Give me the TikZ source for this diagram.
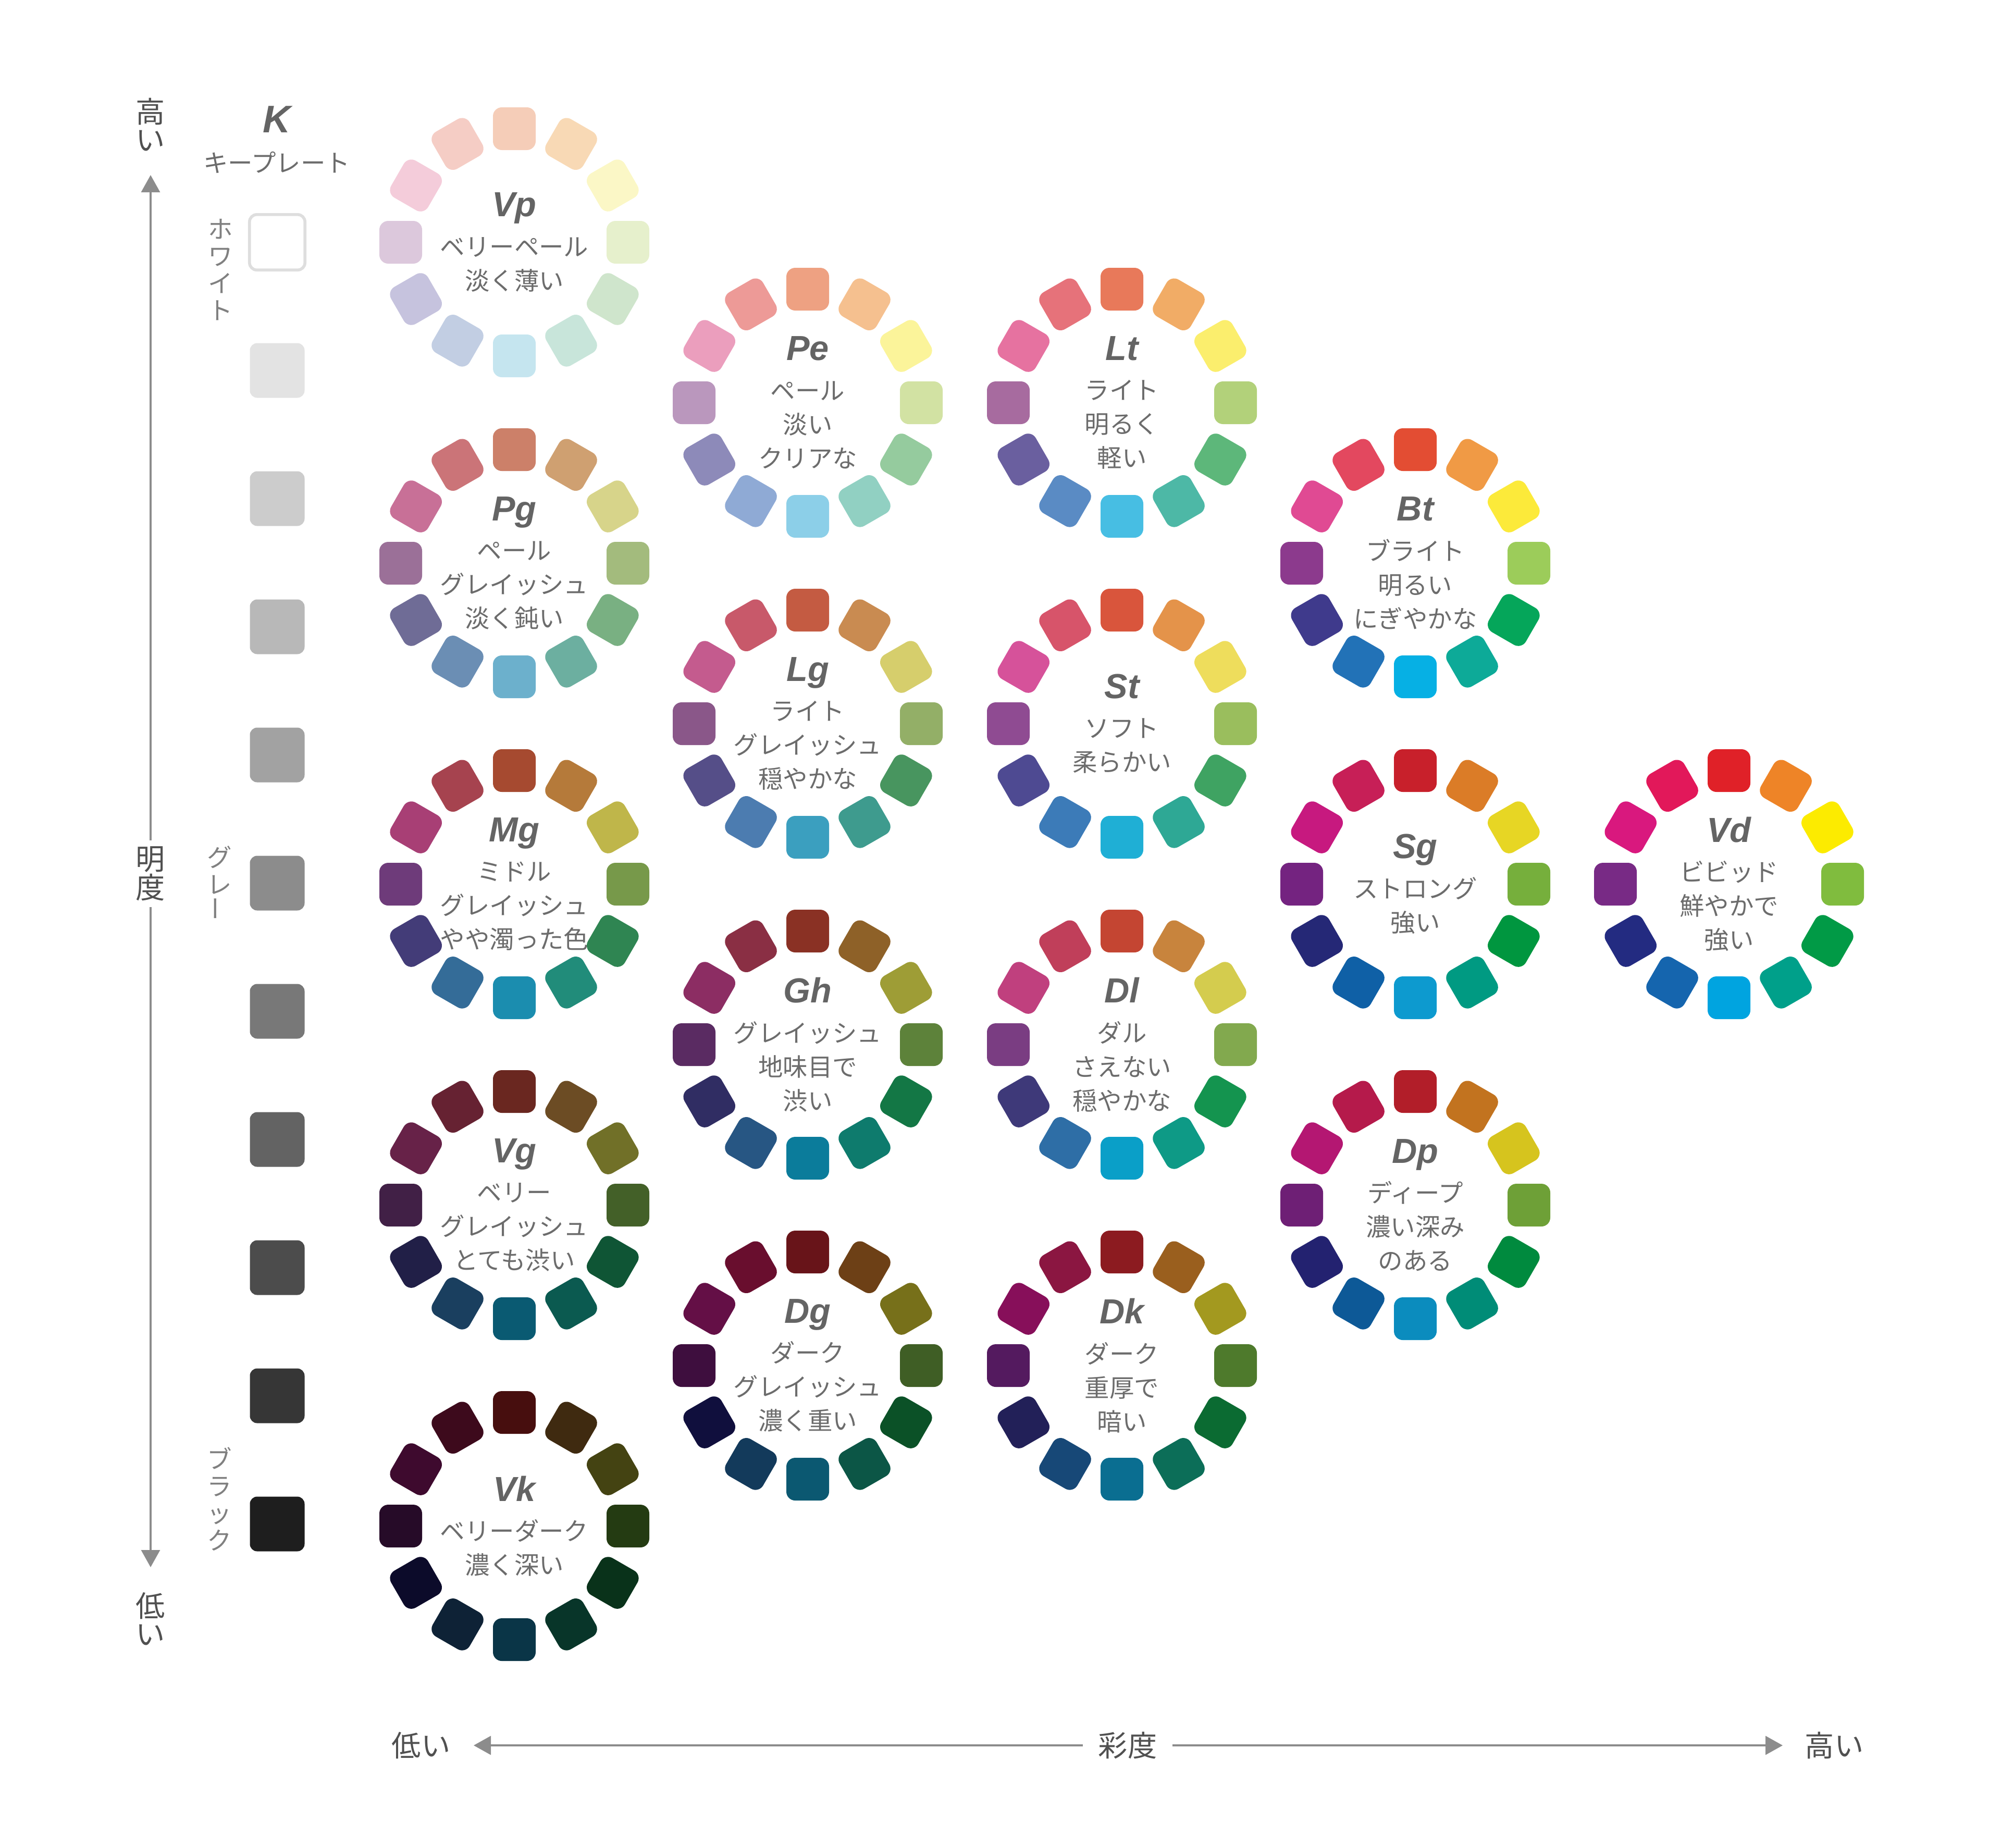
\documentclass[tikz,border=0pt]{standalone}
\usepackage{fontspec}
\setmainfont{Noto Sans CJK JP}
\newfontfamily\titlefont{Liberation Sans}
\usetikzlibrary{arrows.meta}

\definecolor{labelgray}{HTML}{6C6C6C}
\definecolor{titlegray}{HTML}{646464}
\definecolor{axisgray}{HTML}{8C8C8C}
\definecolor{axistext}{HTML}{505050}
\definecolor{sidegray}{HTML}{808080}

\tikzset{
  tile/.style={rectangle, minimum size=0.82cm, inner sep=0pt, rounded corners=0.17cm},
  ringtext/.style={align=center, text=labelgray, font=\fontsize{13.5}{18.5}\selectfont, inner sep=0pt},
  keytile/.style={rectangle, minimum size=1.05cm, inner sep=0pt, rounded corners=0.14cm},
  axislabel/.style={text=axistext, font=\fontsize{16}{15.5}\selectfont, align=center, inner sep=0.12cm},
  sidelabel/.style={text=sidegray, font=\fontsize{13.5}{14.8}\selectfont, align=center, inner sep=0pt},
  axisline/.style={draw=axisgray, line width=0.9pt,
    {Triangle[width=0.36cm,length=0.33cm]}-{Triangle[width=0.36cm,length=0.33cm]}},
}

\newcommand\tonetitle[1]{{\titlefont\bfseries\itshape\fontsize{19}{19}\selectfont\color{titlegray}#1}\\[3pt]}

\newcommand\tonering[4]{%
  \begin{scope}[shift={(#2)}]
    \foreach \hex [count=\i from 0] in {#3} {
      \definecolor{tilecol}{HTML}{\hex}
      \node[tile, fill=tilecol, rotate=90-30*\i] (#1-\i) at (90-30*\i:2.18) {};
    }
    \node[ringtext] (#1) at (0,0) {#4};
  \end{scope}%
}

\begin{document}
\begin{tikzpicture}
  \useasboundingbox (0,0) rectangle (38.40,-35.46);

  \coordinate (lightTop) at (2.89,-3.36);
  \coordinate (lightBot) at (2.89,-30.08);
  \draw[axisline] (lightTop) -- (lightBot);
  \node[axislabel] (lightHi) at (2.89,-2.39) {高\\い};
  \node[axislabel] (lightLo) at (2.89,-31.07) {低\\い};
  \node[axislabel, fill=white] (lightness) at (2.89,-16.77) {明\\度};

  \coordinate (chromaL) at (9.09,-33.50);
  \coordinate (chromaR) at (34.21,-33.50);
  \draw[axisline] (chromaL) -- (chromaR);
  \node[axislabel] (chromaLo) at (8.08,-33.50) {低い};
  \node[axislabel] (chromaHi) at (35.20,-33.50) {高い};
  \node[axislabel, fill=white, inner xsep=0.3cm] (chroma) at (21.64,-33.50) {彩度};

  \node[ringtext] (key) at (5.31,-2.68) {{\titlefont\bfseries\itshape\fontsize{21}{21}\selectfont\color{titlegray}K}\\[3pt]キープレート};
  \foreach \hex [count=\k from 0] in {FFFFFF,E3E3E3,CCCCCC,B8B8B8,A2A2A2,8C8C8C,787878,636363,4C4C4C,363636,1E1E1E} {
    \definecolor{tilecol}{HTML}{\hex}
    \node[keytile, fill=tilecol] (key-\k) at (5.32,-4.65-2.46*\k) {};
  }
  \draw[draw=black!13, line width=1.6pt, rounded corners=0.14cm]
    (key-0.south west) rectangle (key-0.north east);
  \node[sidelabel] (white) at (4.23,-5.18) {ホ\\ワ\\イ\\ト};
  \node[sidelabel] (grey) at (4.21,-16.96) {グ\\レ\\\rotatebox{90}{ー}};
  \node[sidelabel] (black) at (4.21,-28.77) {ブ\\ラ\\ッ\\ク};

  \tonering{Vp}{9.87,-4.65}{F5CDB8,F8D9B5,FBF7C6,E6F0CC,CFE5CC,C8E5DA,C5E5EF,C2CEE3,C6C3DE,DCC8DC,F4CCDA,F5CDC5}{\tonetitle{Vp}ベリーペール\\淡く薄い}
  \tonering{Pg}{9.87,-10.81}{CC8069,CFA071,D7D48A,A3BB7D,79B082,6CAFA0,6CB0CC,6B8EB4,6F6C96,9B7098,C87097,CB7478}{\tonetitle{Pg}ペール\\グレイッシュ\\淡く鈍い}
  \tonering{Mg}{9.87,-16.97}{A64A30,B57A3A,BFB64A,77994A,2F8552,218C7A,1B8DAF,346C98,433C78,6E3B7A,A83F75,A6434F}{\tonetitle{Mg}ミドル\\グレイッシュ\\やや濁った色}
  \tonering{Vg}{9.87,-23.13}{6A2720,6C4C24,717028,436028,0F5535,0B5A50,0A5A72,1A3F5F,211F47,412046,672248,662232}{\tonetitle{Vg}ベリー\\グレイッシュ\\とても渋い}
  \tonering{Vk}{9.87,-29.29}{470E0E,3F2A10,444312,243B12,09321A,083529,0A3547,0E2236,0C0B2A,260B28,3E0A2E,3D0A1C}{\tonetitle{Vk}ベリーダーク\\濃く深い}

  \tonering{Pe}{15.50,-7.73}{EEA182,F5C08F,FBF49A,D2E2A3,95CB9E,91D0C2,8CCFE8,8FAAD5,8D8AB9,BA97BD,EB9EBD,ED9A97}{\tonetitle{Pe}ペール\\淡い\\クリアな}
  \tonering{Lg}{15.50,-13.89}{C45B42,C98B51,D6CE6C,93AF67,48955F,3E9B8E,3B9FBF,4C7CB0,554E88,8A5789,C45B8E,C8596A}{\tonetitle{Lg}ライト\\グレイッシュ\\穏やかな}
  \tonering{Gh}{15.50,-20.05}{8A3124,8E6128,9E9D36,5D823A,137745,0E7B6D,0B7C9B,275683,302D63,5A2B62,8C2D63,8A2F44}{\tonetitle{Gh}グレイッシュ\\地味目で\\渋い}
  \tonering{Dg}{15.50,-26.21}{681419,6D4016,77701A,3F5E25,0B5127,0C5646,0B5871,133A5B,100F3D,3E0E3E,640F46,690E2E}{\tonetitle{Dg}ダーク\\グレイッシュ\\濃く重い}

  \tonering{Lt}{21.53,-7.73}{E8795A,F1AC66,FBEE6D,B2D17A,5DB77A,4DB8A6,47BEE3,5A8BC4,6A5F9F,A76B9F,E672A0,E6727A}{\tonetitle{Lt}ライト\\明るく\\軽い}
  \tonering{St}{21.53,-13.89}{D9553C,E4934A,EEDD5C,9ABE5D,3FA362,2EA895,1FAFD5,3C7BB8,4E4A92,8F4B92,D6529A,D7546A}{\tonetitle{St}ソフト\\柔らかい}
  \tonering{Dl}{21.53,-20.05}{C44532,C8843D,D4CC4E,82A94E,14944F,0E9A86,0A9FC8,2E6EA6,3E3979,7A3D82,C0407E,C03F5A}{\tonetitle{Dl}ダル\\さえない\\穏やかな}
  \tonering{Dk}{21.53,-26.21}{8C1B20,9A5F1E,A3991F,4E7A2C,0B6B32,0C6E58,0A6E91,174877,222058,541A5F,870F5A,8B1641}{\tonetitle{Dk}ダーク\\重厚で\\暗い}

  \tonering{Bt}{27.16,-10.81}{E34D33,F09A45,FCEA3A,9CCC5A,05A65A,0DAA98,06B0E4,2272B7,3F3A8C,8C3A8D,E04A93,E3485F}{\tonetitle{Bt}ブライト\\明るい\\にぎやかな}
  \tonering{Sg}{27.16,-16.97}{C8202B,DB7C27,E7D624,76AF3C,00963F,009A82,0D9ACF,0F60A6,252876,742380,C7197F,C71F57}{\tonetitle{Sg}ストロング\\強い}
  \tonering{Dp}{27.16,-23.13}{B21E29,C2731F,D6C41E,6EA037,008A3E,008C77,0B8CBE,0D5997,232270,6E1F75,B41772,B51A4B}{\tonetitle{Dp}ディープ\\濃い深み\\のある}

  \tonering{Vd}{33.18,-16.97}{E02128,EE8427,FCEB00,80BC3E,019A46,00A08A,00A4E0,1565AE,232B81,782A85,D9187E,E2185A}{\tonetitle{Vd}ビビッド\\鮮やかで\\強い}
\end{tikzpicture}
\end{document}
